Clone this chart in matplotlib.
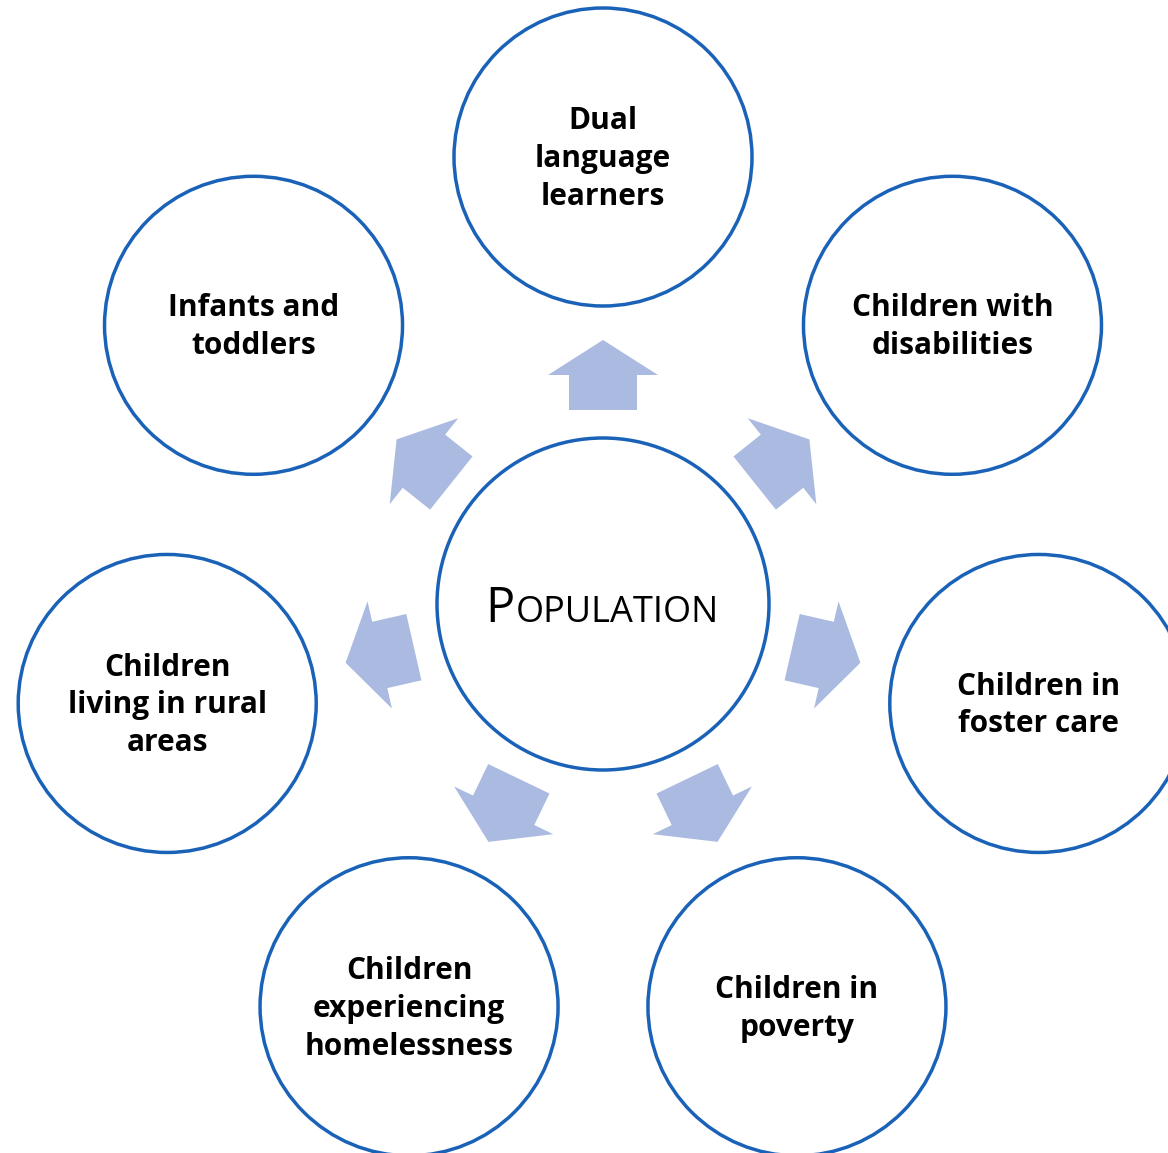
import numpy as np
import matplotlib
matplotlib.use("Agg")
import matplotlib.pyplot as plt
from matplotlib.patches import Circle, Polygon

# diagram content
center_label_cap = "P"
center_label_rest = "OPULATION"
labels = [
    "Dual\nlanguage\nlearners",
    "Children with\ndisabilities",
    "Children in\nfoster care",
    "Children in\npoverty",
    "Children\nexperiencing\nhomelessness",
    "Children\nliving in rural\nareas",
    "Infants and\ntoddlers",
]

W, H = 1168, 1153
cx, cy = 603, 604          # centre of the hub (pixels, y down)
r_hub, r_node, ring = 166, 149, 447
edge_col = "#1A62B8"
arrow_col = "#AABAE0"

fig = plt.figure(figsize=(W / 100, H / 100), dpi=100)
ax = fig.add_axes([0, 0, 1, 1])
ax.set_xlim(0, W)
ax.set_ylim(H, 0)
ax.set_aspect("equal")
ax.axis("off")

n = len(labels)
for i, lab in enumerate(labels):
    th = np.deg2rad(360.0 / n * i)
    u = np.array([np.sin(th), -np.cos(th)])   # outward direction
    v = np.array([np.cos(th), np.sin(th)])    # perpendicular
    c = np.array([cx, cy])

    # arrow: shaft 194..229, head 229..264
    pts = [c + 194 * u - 34 * v, c + 229 * u - 34 * v, c + 229 * u - 55 * v,
           c + 264 * u, c + 229 * u + 55 * v, c + 229 * u + 34 * v,
           c + 194 * u + 34 * v]
    ax.add_patch(Polygon(pts, closed=True, fc=arrow_col, ec="none", zorder=1))

    px, py = c + ring * u
    ax.add_patch(Circle((px, py), r_node, fc="white", ec=edge_col, lw=2.5, zorder=2))
    ax.text(px, py + 2, lab, ha="center", va="center", fontsize=21.5, fontweight="bold",
            family="Open Sans", linespacing=1.34, color="black", zorder=3)

ax.add_patch(Circle((cx, cy), r_hub, fc="white", ec=edge_col, lw=2.5, zorder=2))
# small caps title
ax.text(cx - 89, cy + 18, center_label_cap, ha="right", va="baseline",
        fontsize=35, family="Open Sans", color="black", zorder=3)
ax.text(cx - 87, cy + 18, center_label_rest, ha="left", va="baseline",
        fontsize=26, family="Open Sans", color="black", zorder=3)

fig.savefig("out.png", dpi=100)
